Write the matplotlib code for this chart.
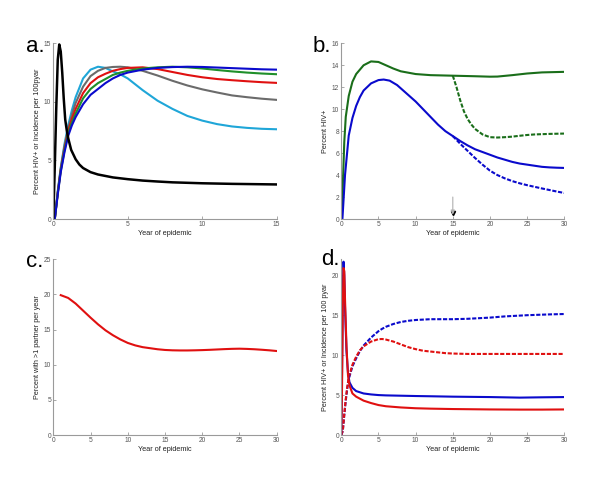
import matplotlib
matplotlib.use('Agg')
import matplotlib.pyplot as plt

plt.rcParams['font.family'] = ['Liberation Sans', 'DejaVu Sans']

# ---- panel a: prevalence by scenario (x 0-15) ----
xa = [0.1, 0.3, 0.5, 0.75, 1, 1.25, 1.5, 2, 2.5, 3, 3.5, 4, 4.5, 5, 6, 7, 8, 9, 10, 11, 12, 13, 14, 15]
a_cyan = [0, 2.4, 4.4, 6.4, 8.0, 9.3, 10.4, 12.0, 12.75, 13.0, 12.9, 12.6, 12.35, 12.0, 11.0, 10.1, 9.4, 8.8, 8.4, 8.1, 7.9, 7.78, 7.7, 7.66]
a_grey = [0, 2.3, 4.3, 6.2, 7.7, 8.9, 9.9, 11.3, 12.2, 12.65, 12.9, 12.98, 13.0, 12.95, 12.65, 12.25, 11.8, 11.4, 11.07, 10.8, 10.55, 10.4, 10.27, 10.17]
a_red = [0, 2.25, 4.2, 6.0, 7.5, 8.55, 9.4, 10.75, 11.6, 12.1, 12.4, 12.65, 12.8, 12.9, 12.95, 12.8, 12.55, 12.3, 12.1, 11.95, 11.85, 11.76, 11.68, 11.62]
a_green = [0, 2.2, 4.1, 5.85, 7.3, 8.25, 9.0, 10.3, 11.1, 11.6, 11.95, 12.3, 12.5, 12.65, 12.85, 12.95, 13.0, 12.95, 12.85, 12.72, 12.6, 12.5, 12.42, 12.36]
a_blue = [0, 2.1, 4.0, 5.7, 7.1, 8.0, 8.7, 9.8, 10.6, 11.1, 11.6, 12.0, 12.3, 12.5, 12.75, 12.9, 12.97, 13.0, 12.98, 12.93, 12.88, 12.83, 12.78, 12.75]
xa_inc = [0, 0.1, 0.2, 0.3, 0.4, 0.5, 0.6, 0.7, 0.8, 0.9, 1.0, 1.2, 1.35, 1.5, 1.75, 2, 2.5, 3, 4, 5, 6, 7, 8, 10, 12, 15]
a_black = [0, 4.5, 9.5, 13.6, 14.9, 14.3, 12.5, 10.3, 8.5, 7.6, 6.9, 5.9, 5.5, 5.1, 4.65, 4.35, 4.0, 3.8, 3.55, 3.4, 3.28, 3.2, 3.13, 3.05, 3.0, 2.95]

# ---- panel b: prevalence with / without intervention (x 0-30) ----
xb_g = [0, 0.2, 0.4, 0.6, 1, 1.5, 2, 3, 4, 5, 6, 7, 8, 10, 12, 15, 18, 20, 21, 23, 25, 27, 30]
b_green = [0, 3, 7, 9.3, 11.2, 12.5, 13.2, 14.0, 14.35, 14.3, 14.0, 13.7, 13.45, 13.2, 13.1, 13.05, 13.0, 12.96, 12.97, 13.1, 13.25, 13.35, 13.4]
xb_gd = [15, 15.5, 16, 16.5, 17, 17.5, 18, 19, 20, 21, 22, 23, 24, 25, 26, 28, 30]
b_green_dash = [13.05, 12.0, 10.8, 9.8, 9.1, 8.6, 8.2, 7.7, 7.45, 7.42, 7.45, 7.5, 7.58, 7.65, 7.7, 7.75, 7.78]
xb_b = [0, 0.15, 0.5, 1, 1.5, 2, 2.5, 3, 4, 5, 5.7, 6.5, 7.5, 9, 10, 11, 12, 13, 14, 15, 16, 17, 18, 19, 20,
        21, 22, 23, 24, 25, 26, 27, 28, 29, 30]
b_blue = [0, 0, 4.0, 7.6, 9.2, 10.3, 11.1, 11.7, 12.35, 12.65, 12.7, 12.6, 12.2, 11.3, 10.7, 10.0, 9.3, 8.6, 8.0, 7.55,
          7.1, 6.7, 6.35, 6.1, 5.85, 5.6, 5.4, 5.2, 5.05, 4.95, 4.85, 4.75, 4.7, 4.67, 4.65]
xb_bd = [15, 16, 17, 18, 19, 20, 21, 22, 23, 24, 25, 26, 27, 28, 29, 30]
b_blue_dash = [7.55, 6.85, 6.2, 5.55, 4.95, 4.4, 4.0, 3.7, 3.45, 3.25, 3.08, 2.93, 2.78, 2.64, 2.5, 2.37]

# ---- panel c: percent with >1 partner ----
xc = list(range(1, 31))
c_red = [19.9, 19.5, 18.7, 17.7, 16.7, 15.75, 14.9, 14.2, 13.6, 13.1, 12.75, 12.5, 12.35, 12.2, 12.1, 12.05,
         12.03, 12.03, 12.05, 12.08, 12.12, 12.17, 12.22, 12.26, 12.28, 12.25, 12.2, 12.13, 12.05, 11.95]

# ---- panel d: prevalence (dashed) and incidence (solid) ----
xd_s = [0, 0.1, 0.2, 0.3, 0.4, 0.5, 0.7, 0.9, 1.1, 1.5, 2, 3, 4, 5, 6, 8, 10, 12, 15, 20, 24, 27, 30]
d_blue = [0, 8, 18, 21.7, 20, 16, 10.5, 7.8, 6.6, 5.9, 5.5, 5.2, 5.08, 5.0, 4.96, 4.92, 4.88, 4.85, 4.8, 4.75, 4.68, 4.72, 4.75]
d_red = [0, 6, 16, 20.9, 20.5, 17, 11, 7.5, 6.2, 5.2, 4.8, 4.3, 4.0, 3.75, 3.6, 3.45, 3.35, 3.3, 3.25, 3.2, 3.18, 3.18, 3.2]
xd_d = [0, 0.2, 0.4, 0.6, 0.8, 1, 1.5, 2, 2.5, 3, 4, 5, 5.5, 6, 7, 8, 9, 10, 11, 12, 13, 14, 15, 17, 20, 22, 25, 28, 30]
d_blue_dash = [0, 0.5, 2.5, 4.3, 5.8, 7.0, 8.6, 9.6, 10.5, 11.2, 12.2, 13.0, 13.3, 13.55, 13.9, 14.15, 14.3, 14.4,
               14.45, 14.5, 14.5, 14.5, 14.5, 14.55, 14.7, 14.85, 15.0, 15.1, 15.15]
d_red_dash = [0, 0.5, 2.6, 4.5, 6.0, 7.2, 8.8, 9.8, 10.6, 11.1, 11.7, 12.0, 12.02, 11.95, 11.7, 11.35, 11.0, 10.75,
              10.55, 10.45, 10.35, 10.25, 10.2, 10.15, 10.15, 10.15, 10.15, 10.15, 10.15]

C_CYAN = '#1fa6d8'
C_GREY = '#6b6b6b'
C_RED = '#e01010'
C_GREEN = '#1f8f2a'
C_DKGREEN = '#1a6e1a'
C_BLUE = '#0a0acc'
LW = 1.5
DASH = (0, (2.0, 0.8))

fig = plt.figure(figsize=(6.05, 4.92), dpi=100)
W, H = 605.0, 492.0


def make_ax(x0, x1, y_top, y_bot):
    return fig.add_axes([x0 / W, 1 - y_bot / H, (x1 - x0) / W, (y_bot - y_top) / H])


def style(ax, xlim, ylim, xticks, yticks, ylabel):
    ax.set_xlim(*xlim)
    ax.set_ylim(*ylim)
    ax.set_xticks(xticks)
    ax.set_yticks(yticks)
    for s in ['top', 'right']:
        ax.spines[s].set_visible(False)
    for s in ['left', 'bottom']:
        ax.spines[s].set_color('#9a9a9a')
        ax.spines[s].set_linewidth(0.8)
    ax.tick_params(direction='in', length=2.5, width=0.6, colors='#9a9a9a',
                   labelsize=4.8, labelcolor='#555555', pad=1.5)
    ax.set_xlabel('Year of epidemic', fontsize=5.2, labelpad=1.5, color='#222222')
    ax.set_ylabel(ylabel, fontsize=5.2, labelpad=2, color='#222222')


ax_a = make_ax(53.3, 276.7, 43.3, 219)
ax_b = make_ax(341.3, 564.3, 43.3, 219)
ax_c = make_ax(53.3, 276.7, 259.3, 435)
ax_d = make_ax(341.3, 564.3, 259.3, 435)

# a
ax_a.plot(xa, a_cyan, color=C_CYAN, lw=LW)
ax_a.plot(xa, a_grey, color=C_GREY, lw=LW)
ax_a.plot(xa, a_red, color=C_RED, lw=LW)
ax_a.plot(xa, a_green, color=C_GREEN, lw=LW)
ax_a.plot(xa, a_blue, color=C_BLUE, lw=LW)
ax_a.plot(xa_inc, a_black, color='black', lw=LW + 0.3)
style(ax_a, (0, 15), (0, 15), [0, 5, 10, 15], [0, 5, 10, 15],
      'Percent HIV+ or Incidence per 100pyar')

# b
ax_b.plot(xb_g, b_green, color=C_DKGREEN, lw=LW)
ax_b.plot(xb_gd, b_green_dash, color=C_DKGREEN, lw=LW, ls=DASH)
ax_b.plot(xb_b, b_blue, color=C_BLUE, lw=LW)
ax_b.plot(xb_bd, b_blue_dash, color=C_BLUE, lw=LW, ls=DASH)
ax_b.annotate('', xy=(15, 0.4), xytext=(15, 2.0),
              arrowprops=dict(arrowstyle='-|>', color='#b0b0b0', lw=0.8,
                              mutation_scale=6, shrinkA=0, shrinkB=0))
ax_b.plot([15], [0.55], marker='v', color='black', ms=3)
style(ax_b, (0, 30), (0, 16), [0, 5, 10, 15, 20, 25, 30], [0, 2, 4, 6, 8, 10, 12, 14, 16],
      'Percent HIV+')

# c
ax_c.plot(xc, c_red, color=C_RED, lw=LW)
style(ax_c, (0, 30), (0, 25), [0, 5, 10, 15, 20, 25, 30], [0, 5, 10, 15, 20, 25],
      'Percent with >1 partner per year')

# d
ax_d.plot(xd_d, d_blue_dash, color=C_BLUE, lw=LW, ls=DASH)
ax_d.plot(xd_d, d_red_dash, color=C_RED, lw=LW, ls=DASH)
ax_d.plot(xd_s, d_blue, color=C_BLUE, lw=LW)
ax_d.plot(xd_s, d_red, color=C_RED, lw=LW)
style(ax_d, (0, 30), (0, 22), [0, 5, 10, 15, 20, 25, 30], [0, 5, 10, 15, 20],
      'Percent HIV+ or Incidence per 100 pyar')

# panel letters
for txt, px, py in [('a.', 26, 52), ('b.', 313, 52), ('c.', 26, 267), ('d.', 321, 265)]:
    fig.text(px / W, 1 - py / H, txt, fontsize=16, ha='left', va='baseline', color='black')

fig.savefig('out.png', dpi=100)
